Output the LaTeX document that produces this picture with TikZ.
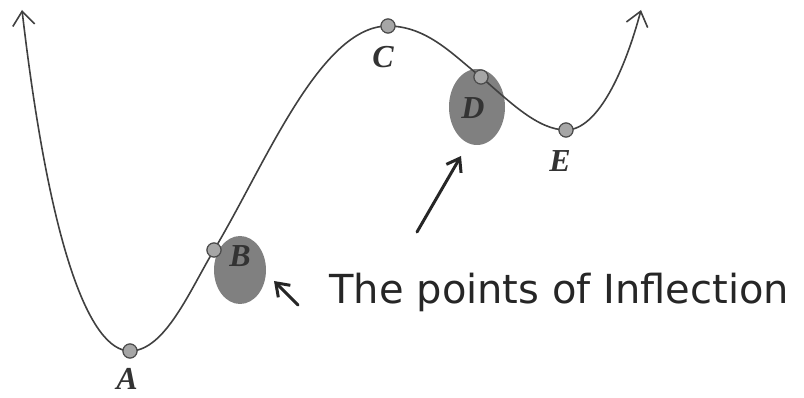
\documentclass[tikz,border=0pt]{standalone}
\usepackage{fontspec}
\setmainfont{Liberation Serif}
\newfontfamily\handfont{DejaVu Sans}
\usetikzlibrary{arrows.meta}
\begin{document}
\begin{tikzpicture}[x=1pt,y=-1pt,
  curve/.style={draw=black!75,line width=1.6pt},
  pt/.style={circle,draw=black!70,fill=black!35,line width=1.1pt,inner sep=0pt,minimum size=14pt},
  lbl/.style={font=\fontsize{32}{32}\selectfont\bfseries\itshape,text=black!80,inner sep=1pt},
  hand/.style={draw=black!85,line width=3pt,line cap=round,-{Straight Barb[length=12pt,width=17pt,line width=3pt]}}]
\useasboundingbox (0,0) rectangle (804,398);
% blobs
\fill[black!50] (240,270) ellipse (26pt and 34pt);
\fill[black!50] (477,107) ellipse (28pt and 38pt);
% coordinates
\coordinate (L) at (22,10);
\coordinate (R) at (641,10);
\node[pt] (A) at (130,351) {};
\node[pt] (B) at (214,250) {};
\node[pt] (C) at (388,26) {};
\node[pt] (D) at (481,77) {};
\node[pt] (E) at (566,130) {};
% curve
\draw[curve,{Straight Barb[length=14pt,width=22pt,line width=1.6pt]}-{Straight Barb[length=14pt,width=22pt,line width=1.6pt]}]
  (L) .. controls (50,250) and (90,351) .. (A.center)
  .. controls (165,351) and (190,290) .. (B.center)
  .. controls (265,165) and (320,26) .. (C.center)
  .. controls (428,26) and (455,57) .. (D.center)
  .. controls (510,102) and (538,130) .. (E.center)
  .. controls (598,130) and (625,70) .. (R);
% redraw points on top
\foreach \p in {A,B,C,D,E} \node[pt] at (\p) {};
% labels
\node[lbl] (lA) at (127,379) {A};
\node[lbl] (lB) at (240,256) {B};
\node[lbl] (lC) at (383,57) {C};
\node[lbl] (lD) at (473,108) {D};
\node[lbl] (lE) at (560,161) {E};
% handwritten arrows and text
\coordinate (h1s) at (417,232);
\coordinate (h1e) at (461,156);
\draw[hand] (h1s) -- (h1e);
\coordinate (h2s) at (298,305);
\coordinate (h2e) at (274,281);
\draw[hand] (h2s) -- (h2e);
\node[anchor=west,font=\handfont\fontsize{40}{40}\selectfont,text=black!85] (txt) at (326,292) {The points of Inflection};
\end{tikzpicture}
\end{document}
